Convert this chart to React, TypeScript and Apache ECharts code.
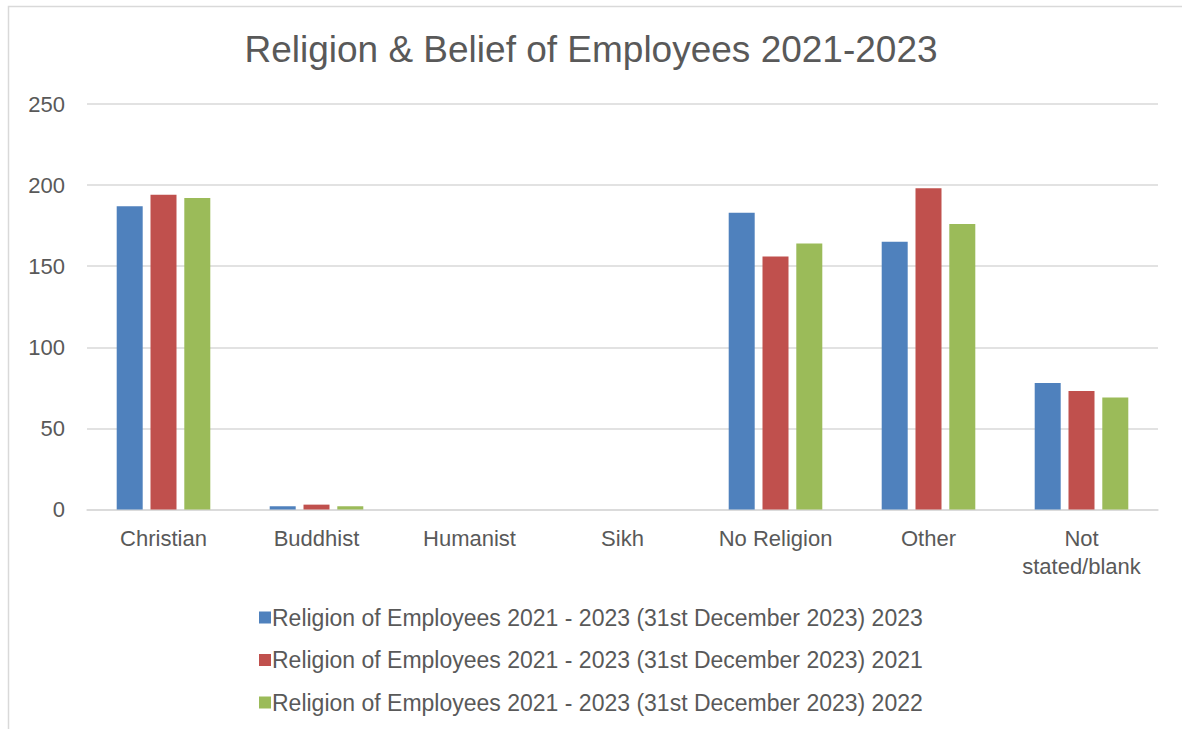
import React, { useEffect, useRef } from "react";
import * as echarts from "echarts";

const categories = ["Christian", "Buddhist", "Humanist", "Sikh", "No Religion", "Other", "Not stated/blank"];
const seriesNames = [
  "Religion of Employees 2021 - 2023 (31st December 2023) 2023",
  "Religion of Employees 2021 - 2023 (31st December 2023) 2021",
  "Religion of Employees 2021 - 2023 (31st December 2023) 2022",
];
const values2023 = [187, 2, 0, 0, 183, 165, 78];
const values2021 = [194, 3, 0, 0, 156, 198, 73];
const values2022 = [192, 2, 0, 0, 164, 176, 69];
const seriesValues = [values2023, values2021, values2022];
const colors = ["#4F81BD", "#C0504D", "#9BBB59"];
const yTicks = [0, 50, 100, 150, 200, 250];

export default function App() {
  const ref = useRef<HTMLDivElement>(null);
  useEffect(() => {
    if (!ref.current) return;
    const chart = echarts.init(ref.current, undefined, { renderer: "svg" });
    const font = "'Liberation Sans', Arial, sans-serif";
    chart.setOption({
      animation: false,
      backgroundColor: "#ffffff",
      textStyle: { fontFamily: font },
      title: {
        text: "Religion & Belief of Employees 2021-2023",
        left: "center",
        top: 26,
        textStyle: { fontFamily: font, fontSize: 37, fontWeight: "normal", color: "#595959" },
      },
      graphic: [
        {
          type: "rect",
          shape: { x: 8.5, y: 6.5, width: 1300, height: 900 },
          style: { fill: "none", stroke: "#d9d9d9", lineWidth: 1.5 },
          silent: true,
        },
      ],
      legend: {
        orient: "vertical",
        left: 254,
        top: 601,
        itemWidth: 12,
        itemHeight: 12,
        itemGap: 19.5,
        icon: "rect",
        data: seriesNames,
        textStyle: { fontFamily: font, fontSize: 23, color: "#595959", padding: [0, 0, 0, -4] },
      },
      grid: { left: 87, right: 24, top: 104, bottom: 219.5, containLabel: false },
      xAxis: {
        type: "category",
        data: categories,
        axisLine: { lineStyle: { color: "#d9d9d9", width: 1.5 } },
        axisTick: { show: false },
        axisLabel: {
          fontFamily: font,
          fontSize: 22,
          color: "#595959",
          margin: 15,
          lineHeight: 28,
          interval: 0,
          formatter: (v: string) => (v === "Not stated/blank" ? "Not\nstated/blank" : v),
        },
      },
      yAxis: {
        type: "value",
        min: yTicks[0],
        max: yTicks[yTicks.length - 1],
        interval: 50,
        axisLine: { show: false },
        axisTick: { show: false },
        splitLine: { lineStyle: { color: "#d9d9d9", width: 1.5 } },
        axisLabel: { fontFamily: font, fontSize: 22, color: "#595959", margin: 22 },
      },
      series: seriesNames.map((name, i) => ({
        name,
        type: "bar",
        data: seriesValues[i],
        barWidth: 26,
        barGap: "30%",
        itemStyle: { color: colors[i] },
      })),
    });
    return () => chart.dispose();
  }, []);
  return (
    <div
      ref={ref}
      style={{ position: "fixed", left: 0, top: 0, width: 1182, height: 729 }}
    />
  );
}
